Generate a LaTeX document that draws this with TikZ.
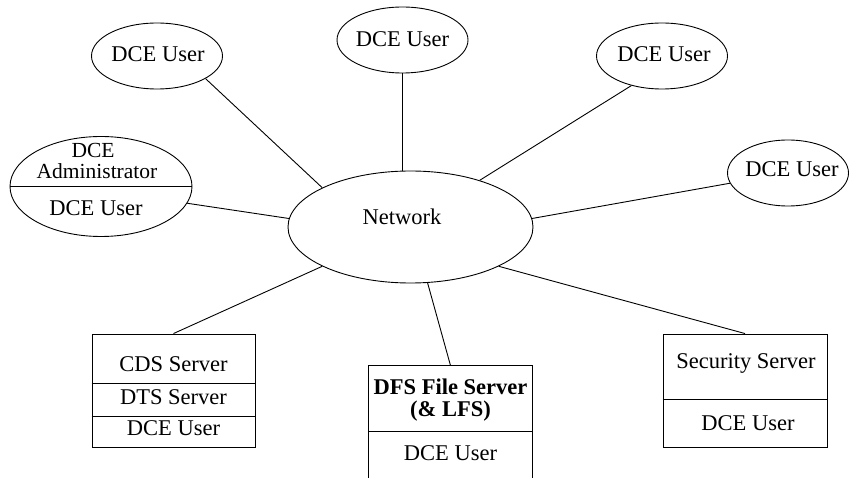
\documentclass[tikz,border=0pt]{standalone}
\usepackage{fontspec}
\setmainfont{Liberation Serif}
\usetikzlibrary{shapes.geometric}
\begin{document}
\begin{tikzpicture}[x=1pt,y=-1pt, line width=0.9pt,
  usr/.style={draw, ellipse, inner sep=0pt, minimum width=131pt, minimum height=66pt},
  txt/.style={anchor=base, inner sep=0pt, font=\fontsize{22.5}{26}\selectfont},
  smalltxt/.style={anchor=base, inner sep=0pt, font=\fontsize{21.5}{24}\selectfont},
  boxnode/.style={rectangle, inner sep=0pt, minimum width=163pt}]
\useasboundingbox (0,0) rectangle (849,478);
% user ellipses
\node[usr] (u1) at (157,56) {};
\node[usr] (u2) at (402.5,40) {};
\node[usr] (u3) at (662,56) {};
\node[usr, minimum width=121pt] (u4) at (788,173) {};
\node[txt] (t1) at (158,62) {DCE User};
\node[txt] (t2) at (402.5,47) {DCE User};
\node[txt] (t3) at (664,62) {DCE User};
\node[txt] (t4) at (792,177) {DCE User};
% administrator
\node[draw, ellipse, inner sep=0pt, minimum width=182pt, minimum height=100pt] (adm) at (101,186.5) {};
\draw (adm.west) -- (adm.east);
\node[smalltxt] (ta1) at (93,157.5) {DCE};
\node[smalltxt] (ta2) at (97,179) {Administrator};
\node[txt] (ta3) at (96,216) {DCE User};
% network
\node[draw, ellipse, inner sep=0pt, minimum width=245pt, minimum height=112pt] (net) at (410.5,227) {};
\node[txt] (tn) at (402,225) {Network};
% CDS box
\node[boxnode, draw, minimum height=113pt] (cds) at (173.5,390.5) {};
\draw (cds.west |- 0,383) -- (cds.east |- 0,383);
\draw (cds.west |- 0,416) -- (cds.east |- 0,416);
\node[txt] (tc1) at (173.5,372) {CDS Server};
\node[txt] (tc2) at (173.5,404) {DTS Server};
\node[txt] (tc3) at (173.5,435) {DCE User};
% DFS box (open at the bottom)
\node[boxnode, minimum height=112pt] (dfs) at (450.5,422) {};
\draw (dfs.south west) |- (dfs.north east) -- (dfs.south east);
\draw (dfs.west |- 0,431) -- (dfs.east |- 0,431);
\node[txt, font=\fontsize{22.5}{26}\selectfont\bfseries] (td1) at (450.5,395) {DFS File Server};
\node[txt, font=\fontsize{22.5}{26}\selectfont\bfseries] (td2) at (450.5,417) {(\& LFS)};
\node[txt] (td3) at (450.5,460) {DCE User};
% Security box
\node[boxnode, draw, minimum width=164pt, minimum height=113pt] (sec) at (745,390.5) {};
\draw (sec.west |- 0,399) -- (sec.east |- 0,399);
\node[txt] (ts1) at (746,368) {Security Server};
\node[txt] (ts2) at (748,430) {DCE User};
% connectors
\draw (u1.335) -- (net.156);
\draw (adm.349) -- (net.176);
\draw (u2.south) -- (u2.south |- net.north);
\draw (u3.224) -- (net.34);
\draw (u4.190) -- (net.4);
\draw (cds.north) -- (net.204);
\draw (dfs.north) -- (net.287);
\draw (sec.north) -- (net.336);
\end{tikzpicture}
\end{document}
